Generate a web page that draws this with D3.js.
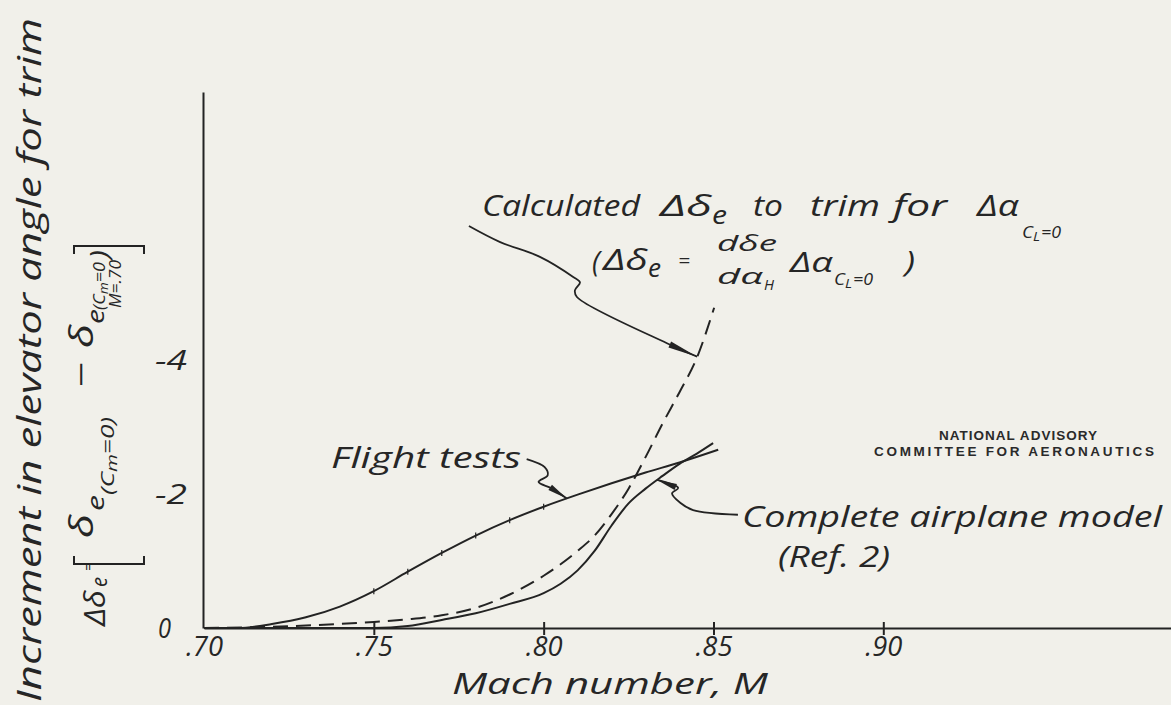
<!DOCTYPE html>
<html><head><meta charset="utf-8">
<script src="https://cdn.jsdelivr.net/npm/d3@7/dist/d3.min.js"></script>
<style>
html,body{margin:0;padding:0;background:#f1f0ea;}
svg{display:block;}
.hand{font-family:'Open Sans','Noto Sans',sans-serif;font-style:italic;font-weight:400;fill:#262626;}
.naca{font-family:'Liberation Sans',Arial,sans-serif;font-weight:bold;fill:#2a2a2a;}
</style></head>
<body>
<svg id="c" width="1171" height="705"></svg>
<script>
// ---- data ----
const flightM   = [0.70,0.71,0.72,0.73,0.74,0.75,0.76,0.77,0.78,0.79,0.80,0.81,0.82,0.83,0.84,0.8514];
const flightD   = [0,0,-0.06,-0.16,-0.32,-0.55,-0.84,-1.12,-1.38,-1.61,-1.81,-1.99,-2.16,-2.32,-2.47,-2.66];
const modelM    = [0.70,0.75,0.76,0.77,0.78,0.79,0.80,0.805,0.81,0.815,0.82,0.825,0.83,0.835,0.84,0.845,0.8499];
const modelD    = [0,0,-0.03,-0.12,-0.22,-0.36,-0.52,-0.66,-0.86,-1.15,-1.53,-1.86,-2.08,-2.27,-2.45,-2.60,-2.76];
const calcM     = [0.70,0.72,0.74,0.75,0.76,0.77,0.78,0.79,0.80,0.81,0.815,0.82,0.825,0.83,0.835,0.84,0.845,0.8502];
const calcD     = [0,-0.02,-0.06,-0.09,-0.13,-0.19,-0.30,-0.50,-0.78,-1.15,-1.38,-1.70,-2.08,-2.55,-3.05,-3.52,-4.02,-4.78];
const xTickValues = [0.70,0.75,0.80,0.85,0.90];
const xTickLabels = [".70",".75",".80",".85",".90"];
const yTickValues = [0,-2,-4];
const yTickLabels = ["0","-2","-4"];
const flightTickM = [0.75,0.76,0.77,0.78,0.79,0.80];

// leader lines (data space)
const calcLeader   = [[0.7780,-6.00],[0.7872,-5.76],[0.7989,-5.54],[0.8087,-5.24],[0.8107,-5.16],[0.8092,-5.04],[0.8098,-4.94],[0.8363,-4.25]];
const calcTipM = 0.8452;
const flightLeader = [[0.7950,-2.52],[0.8003,-2.40],[0.8012,-2.28],[0.7985,-2.18],[0.8025,-2.08]];
const flightTipM = 0.8068;
const modelLeader  = [[0.8572,-1.69],[0.8440,-1.76],[0.8402,-1.87],[0.8378,-2.01],[0.8396,-2.09]];
const modelTipM = 0.8334;

// ---- chart ----
const svg = d3.select("#c");
const ink = "#232323";
const x = d3.scaleLinear().domain([0.70,0.985]).range([204,1172]);
const y = d3.scaleLinear().domain([0,-8]).range([628,92]);

function interp(ms, ds, m){
  for(let i=0;i<ms.length-1;i++){ if(m>=ms[i] && m<=ms[i+1]){ const t=(m-ms[i])/(ms[i+1]-ms[i]); return ds[i]+t*(ds[i+1]-ds[i]); } }
  return ds[ds.length-1];
}
function T(parent, tx, ty, fs, s, len, anchor){
  const t = parent.append("text").attr("class","hand").attr("x",tx).attr("y",ty).attr("font-size",fs).text(s);
  if(len){ t.attr("textLength",len).attr("lengthAdjust","spacingAndGlyphs"); }
  if(anchor){ t.attr("text-anchor",anchor); }
  return t;
}

// axes
const xAxis = d3.axisBottom(x).tickValues(xTickValues).tickFormat((d,i)=>xTickLabels[i]).tickSizeInner(0).tickSizeOuter(0).tickPadding(8);
const gx = svg.append("g").attr("transform",`translate(0,${y(0)})`).call(xAxis);
gx.select(".domain").attr("stroke",ink).attr("stroke-width",2);
gx.selectAll(".tick text").attr("class","hand").attr("font-size",28).attr("dy","0.72em")
  .attr("textLength",37).attr("lengthAdjust","spacingAndGlyphs");
gx.selectAll(".tick").filter(d=>d>0.70).append("line").attr("y1",-6).attr("y2",7).attr("stroke",ink).attr("stroke-width",2);

const yAxis = d3.axisLeft(y).tickValues([]).tickSizeOuter(0);
const gy = svg.append("g").attr("transform",`translate(${x(0.70)-1},0)`).call(yAxis);
gy.select(".domain").attr("stroke",ink).attr("stroke-width",2);

svg.append("g").selectAll("text").data(yTickValues).join("text")
  .attr("class","hand").attr("font-size",28)
  .attr("x",d=>d===0?171:187).attr("y",d=>y(d)+10).attr("text-anchor","end")
  .attr("textLength",d=>d===0?13:32).attr("lengthAdjust","spacingAndGlyphs")
  .text((d,i)=>yTickLabels[i]);

// curves
const line = d3.line().x(d=>x(d[0])).y(d=>y(d[1])).curve(d3.curveMonotoneX);
const curves = [
  {m:flightM,d:flightD,dash:null},
  {m:modelM,d:modelD,dash:null},
  {m:calcM,d:calcD,dash:"15 8"}
];
svg.append("g").selectAll("path").data(curves).join("path")
  .attr("d",c=>line(c.m.map((m,i)=>[m,c.d[i]])))
  .attr("fill","none").attr("stroke",ink).attr("stroke-width",2)
  .attr("stroke-dasharray",c=>c.dash);

svg.append("g").selectAll("line").data(flightTickM).join("line")
  .attr("x1",d=>x(d)).attr("x2",d=>x(d))
  .attr("y1",d=>y(interp(flightM,flightD,d))-3).attr("y2",d=>y(interp(flightM,flightD,d))+3)
  .attr("stroke",ink).attr("stroke-width",1.2);

// leaders + arrowheads
const leaderLine = d3.line().x(d=>x(d[0])).y(d=>y(d[1])).curve(d3.curveCatmullRom);
function leader(pts, tipM, ms, ds, len){
  const tip=[tipM, interp(ms,ds,tipM)];
  const all = pts.concat([tip]);
  svg.append("path").attr("d",leaderLine(all)).attr("fill","none").attr("stroke",ink).attr("stroke-width",1.8);
  const p1=[x(pts[pts.length-1][0]),y(pts[pts.length-1][1])], p2=[x(tip[0]),y(tip[1])];
  const dx=p2[0]-p1[0], dy=p2[1]-p1[1], L=Math.hypot(dx,dy), ux=dx/L, uy=dy/L;
  const bx=p2[0]-ux*len, by=p2[1]-uy*len, w=3.2;
  svg.append("path").attr("d",`M${p2[0]},${p2[1]}L${bx-uy*w},${by+ux*w}L${bx+uy*w},${by-ux*w}Z`).attr("fill",ink);
}
leader(calcLeader, calcTipM, calcM, calcD, 30);
leader(flightLeader, flightTipM, flightM, flightD, 20);
leader(modelLeader, modelTipM, modelM, modelD, 20);

// annotation: calculated
T(svg,482,216,30,"Calculated",158);
T(svg,660,216,30,"Δδ",52);
T(svg,712,224,26,"e",15);
T(svg,753,216,30,"to",30);
T(svg,810,216,30,"trim",70);
T(svg,893,216,30,"for",54);
T(svg,977,216,30,"Δα",42);
T(svg,1022,238,16,"C",11); T(svg,1033,241,12,"L",7); T(svg,1041,238,16,"=0",20);

T(svg,592,272,30,"(",8);
T(svg,603,270,30,"Δδ",45);
T(svg,648,277,26,"e",13);
T(svg,678,268,20,"=",12);
T(svg,717,251,22,"dδe",60);
T(svg,717,284,22,"dα",46); T(svg,764,290,14,"H",10);
T(svg,790,272,28,"Δα",43);
T(svg,834,285,16,"C",11); T(svg,845,288,12,"L",7); T(svg,853,285,16,"=0",20);
T(svg,905,272,30,")",10);

T(svg,331,468,30,"Flight tests",190);
T(svg,742,527,30,"Complete airplane model",420);
T(svg,778,567,30,"(Ref. 2)",112);

svg.append("text").attr("class","naca").attr("x",1018).attr("y",440).attr("font-size",13.5).attr("text-anchor","middle").attr("textLength",158).text("NATIONAL ADVISORY");
svg.append("text").attr("class","naca").attr("x",1014).attr("y",456).attr("font-size",13.5).attr("text-anchor","middle").attr("textLength",280).text("COMMITTEE FOR AERONAUTICS");

T(svg,452,694,29,"Mach number, M",316);

// rotated y titles
const g1 = svg.append("g").attr("transform","translate(41,702) rotate(-90)");
T(g1,0,0,33,"Increment in elevator angle for trim",684);

const g2 = svg.append("g").attr("transform","translate(104,626) rotate(-90)");
T(g2,0,1,30,"Δδ",36);
T(g2,39,3,22,"e",10);
T(g2,55,-10,16,"=",8);
T(g2,88,-11,32,"δ",24);
T(g2,115,0,24,"e",16);
const s1 = T(g2,131,10,18,"(C"); s1.append("tspan").attr("font-size",14).attr("dy",3).text("m"); s1.append("tspan").attr("font-size",18).attr("dy",-3).text("=0)");
s1.attr("textLength",78).attr("lengthAdjust","spacingAndGlyphs");
T(g2,238,-12,30,"−",26);
T(g2,278,-11,32,"δ",24);
T(g2,302,0,24,"e",15);
const s2 = T(g2,316,1,17,"(C"); s2.append("tspan").attr("font-size",13).attr("dy",3).text("m"); s2.append("tspan").attr("font-size",17).attr("dy",-3).text("=0");
s2.attr("textLength",48).attr("lengthAdjust","spacingAndGlyphs");
T(g2,318,17,17,"M=.70",48);
T(g2,367,4,26,")",9);
// brackets
g2.append("path").attr("d","M70,-30 L62,-30 L62,40 L70,40").attr("fill","none").attr("stroke",ink).attr("stroke-width",2);
g2.append("path").attr("d","M372,-30 L380,-30 L380,40 L372,40").attr("fill","none").attr("stroke",ink).attr("stroke-width",2);
</script>
</body></html>
